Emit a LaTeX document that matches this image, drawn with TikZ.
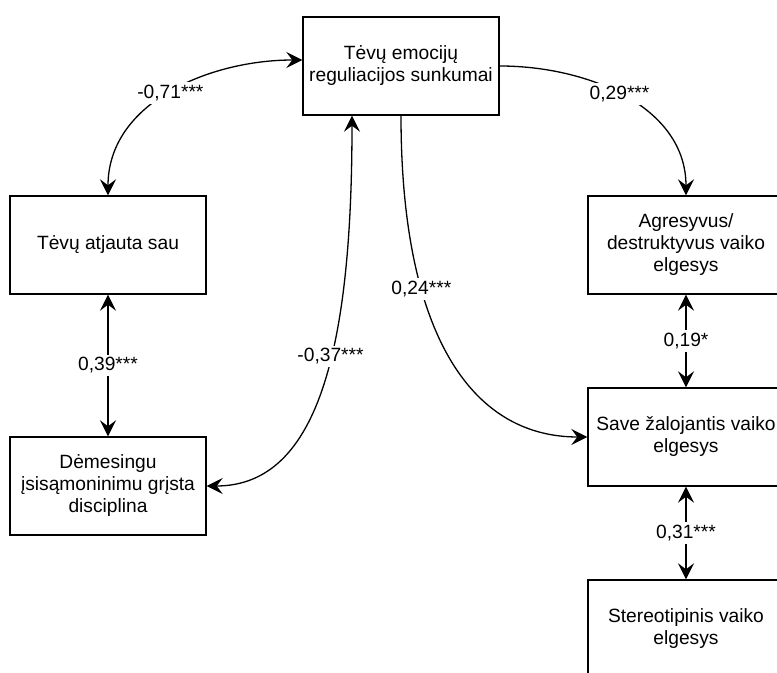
\documentclass[tikz,border=0pt]{standalone}
\usepackage{fontspec}
\setmainfont{Liberation Sans}
\usetikzlibrary{arrows.meta}

\def\boxw{98pt}
\def\boxh{49pt}

\tikzset{
  blok/.style={draw, line width=0.7pt, minimum width=\boxw, minimum height=\boxh,
    align=center, inner sep=0pt, font=\fontsize{9.6}{11}\selectfont},
  koef/.style={fill=white, inner sep=1.5pt, font=\fontsize{9.6}{11}\selectfont},
  rod/.style={line width=0.65pt, -{Stealth[length=8pt,width=8pt,inset=3pt]}},
  dvi/.style={line width=0.65pt, {Stealth[length=8pt,width=8pt,inset=3pt]}-{Stealth[length=8pt,width=8pt,inset=3pt]}}
}

\begin{document}
\begin{tikzpicture}[x=0.5pt,y=-0.5pt]
    \useasboundingbox (0,0) rectangle (777,673);
    \clip (0,0) rectangle (777,673);

    % blokai
    \node[blok] (emo) at (401,66) {Tėvų emocijų\\reguliacijos sunkumai};
    \node[blok] (atj) at (108,245) {Tėvų atjauta sau};
    \node[blok] (dem) at (108,486) {Dėmesingu\\įsisąmoninimu grįsta\\disciplina};
    \node[blok] (agr) at (686,245) {Agresyvus/\\destruktyvus vaiko\\elgesys};
    \node[blok] (zal) at (686,437) {Save žalojantis vaiko\\elgesys};
    \node[blok] (ster) at (686,629) {Stereotipinis vaiko\\elgesys};

    % lenktos rodyklės
    \draw[dvi] ([yshift=3pt]emo.west) to[out=180,in=90]
        node[koef, pos=0.5] {-0,71***} (atj.north);
    \draw[rod] (emo.east) to[out=0,in=90]
        node[koef, pos=0.47] {0,29***} (agr.north);
    \draw[rod] (emo.south) .. controls +(0,215) and +(-118,0) ..
        node[koef, pos=0.32] {0,24***} (zal.west);
    \draw[dvi] ([xshift=-24.5pt]emo.south) .. controls +(0,225) and +(114,0) ..
        node[koef, pos=0.43] {-0,37***} (dem.east);

    % tiesios dvipusės rodyklės
    \foreach \a/\b/\koef in {atj/dem/{0,39***},agr/zal/{0,19*},zal/ster/{0,31***}} {
      \draw[dvi] (\a.south) -- node[koef] {\koef} (\b.north);
    }
\end{tikzpicture}
\end{document}
